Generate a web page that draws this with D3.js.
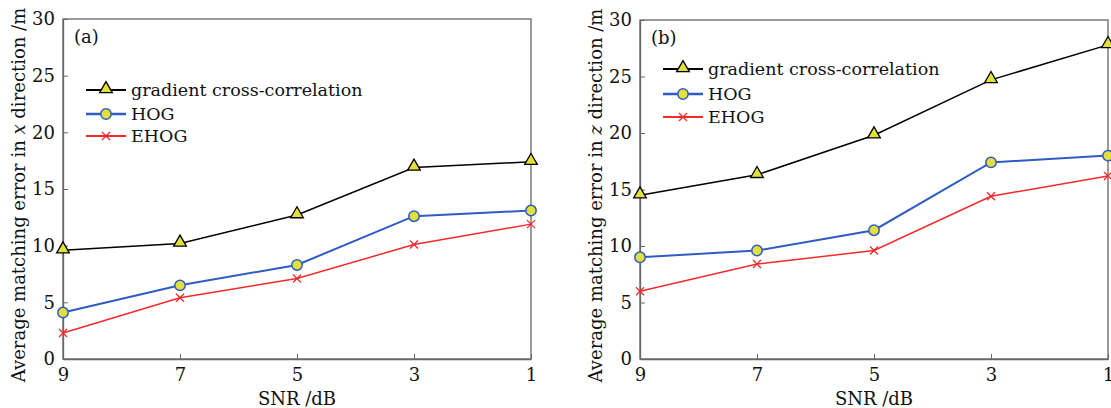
<!DOCTYPE html>
<html>
<head>
<meta charset="utf-8">
<script src="https://cdn.jsdelivr.net/npm/d3@7"></script>
<style>
  html, body { margin: 0; padding: 0; background: #fff; }
  svg { display: block; font-family: "DejaVu Serif", serif; }
</style>
</head>
<body>
<div id="chart"></div>
<script>
// SNR levels (dB), shown in descending order
const snr = [9, 7, 5, 3, 1];
const seriesNames = ["gradient cross-correlation", "HOG", "EHOG"];

// panel (a): x direction
const gccX  = [9.6, 10.2, 12.7, 16.9, 17.4];
const hogX  = [4.1, 6.5, 8.3, 12.6, 13.1];
const ehogX = [2.3, 5.4, 7.1, 10.1, 11.9];

// panel (b): z direction
const gccZ  = [14.5, 16.3, 19.8, 24.7, 27.8];
const hogZ  = [9.0, 9.6, 11.4, 17.4, 18.0];
const ehogZ = [6.0, 8.4, 9.6, 14.4, 16.2];

const yTicks = [0, 5, 10, 15, 20, 25, 30];

const W = 1111, H = 408;
const svg = d3.select("#chart").append("svg")
    .attr("width", W).attr("height", H)
    .attr("viewBox", [0, 0, W, H]);

const styles = [
    { color: "#000000", width: 1.5, marker: "triangle" },
    { color: "#2f5bc4", width: 2,   marker: "circle" },
    { color: "#f42a2a", width: 1.5, marker: "cross" }
];
const yellow = "#e2e03a";

function drawMarker(g, type, color) {
    if (type === "triangle") {
        g.append("path")
            .attr("d", d3.symbol().type(d3.symbolTriangle).size(70)())
            .attr("transform", "translate(0,-1)")
            .attr("fill", yellow).attr("stroke", "#000").attr("stroke-width", 1.3);
    } else if (type === "circle") {
        g.append("circle").attr("r", 5.2)
            .attr("fill", yellow).attr("stroke", color).attr("stroke-width", 1.5);
    } else {
        g.append("path").attr("d", "M-4,-4L4,4M-4,4L4,-4")
            .attr("stroke", color).attr("stroke-width", 1.3).attr("fill", "none");
    }
}

function panel(opts) {
    const { left, right, top, bottom, series, tag, axisVar, labelX, legend } = opts;
    const g = svg.append("g");

    const x = d3.scalePoint().domain(snr).range([left, right]);
    const y = d3.scaleLinear().domain([0, 30]).range([bottom, top]);

    // box
    g.append("rect")
        .attr("x", left).attr("y", top)
        .attr("width", right - left).attr("height", bottom - top)
        .attr("fill", "none").attr("stroke", "#666").attr("stroke-width", 1.3);

    // axes (inward ticks)
    const ax = g.append("g").attr("transform", `translate(0,${bottom})`)
        .call(d3.axisBottom(x).tickSizeInner(-5).tickSizeOuter(0));
    const ay = g.append("g").attr("transform", `translate(${left},0)`)
        .call(d3.axisLeft(y).tickValues(yTicks).tickSizeInner(-5).tickSizeOuter(0).tickPadding(8));
    [ax, ay].forEach(a => {
        a.select(".domain").attr("stroke", "#666").attr("stroke-width", 1.3);
        a.selectAll(".tick line").attr("stroke", "#666");
        a.selectAll("text").attr("font-family", "DejaVu Serif, serif")
            .attr("font-size", 18).attr("fill", "#111");
    });
    ax.selectAll("text").attr("y", 22).attr("dy", 0);

    // lines
    const line = d3.line().x((d, i) => x(snr[i])).y(d => y(d));
    series.forEach((vals, k) => {
        const s = styles[k];
        g.append("path").datum(vals).attr("d", line)
            .attr("fill", "none").attr("stroke", s.color).attr("stroke-width", s.width);
    });
    series.forEach((vals, k) => {
        const s = styles[k];
        g.selectAll(null).data(vals).join("g")
            .attr("transform", (d, i) => `translate(${x(snr[i])},${y(d)})`)
            .each(function () { drawMarker(d3.select(this), s.marker, s.color); });
    });

    // panel tag
    g.append("text").attr("x", left + 11).attr("y", top + 24)
        .attr("font-size", 18).attr("fill", "#111").text(tag);

    // legend
    seriesNames.forEach((name, k) => {
        const s = styles[k];
        const ly = legend.y[k];
        const lg = g.append("g");
        lg.append("line").attr("x1", legend.x).attr("x2", legend.x + 40)
            .attr("y1", ly).attr("y2", ly)
            .attr("stroke", s.color).attr("stroke-width", s.width + 0.5);
        const mg = lg.append("g").attr("transform", `translate(${legend.x + 20},${ly})`);
        drawMarker(mg, s.marker, s.color);
        lg.append("text").attr("x", legend.x + 45).attr("y", ly).attr("dy", "0.35em")
            .attr("font-size", 17.5).attr("fill", "#111").text(name);
    });

    // axis titles
    g.append("text").attr("x", (left + right) / 2).attr("y", 405)
        .attr("text-anchor", "middle").attr("font-size", 18).attr("fill", "#111")
        .text("SNR /dB");

    const yl = g.append("text")
        .attr("transform", `translate(${labelX},${(top + bottom) / 2 + 6}) rotate(-90)`)
        .attr("text-anchor", "middle").attr("font-size", 18).attr("fill", "#111");
    yl.append("tspan").text("Average matching error in ");
    yl.append("tspan").attr("font-style", "italic").text(axisVar);
    yl.append("tspan").text(" direction /m");
}

panel({
    left: 63, right: 531, top: 19, bottom: 359,
    series: [gccX, hogX, ehogX], tag: "(a)", axisVar: "x", labelX: 25,
    legend: { x: 86, y: [90, 114, 136] }
});
panel({
    left: 640, right: 1108, top: 20, bottom: 359,
    series: [gccZ, hogZ, ehogZ], tag: "(b)", axisVar: "z", labelX: 602,
    legend: { x: 663, y: [69, 94, 117] }
});
</script>
</body>
</html>
